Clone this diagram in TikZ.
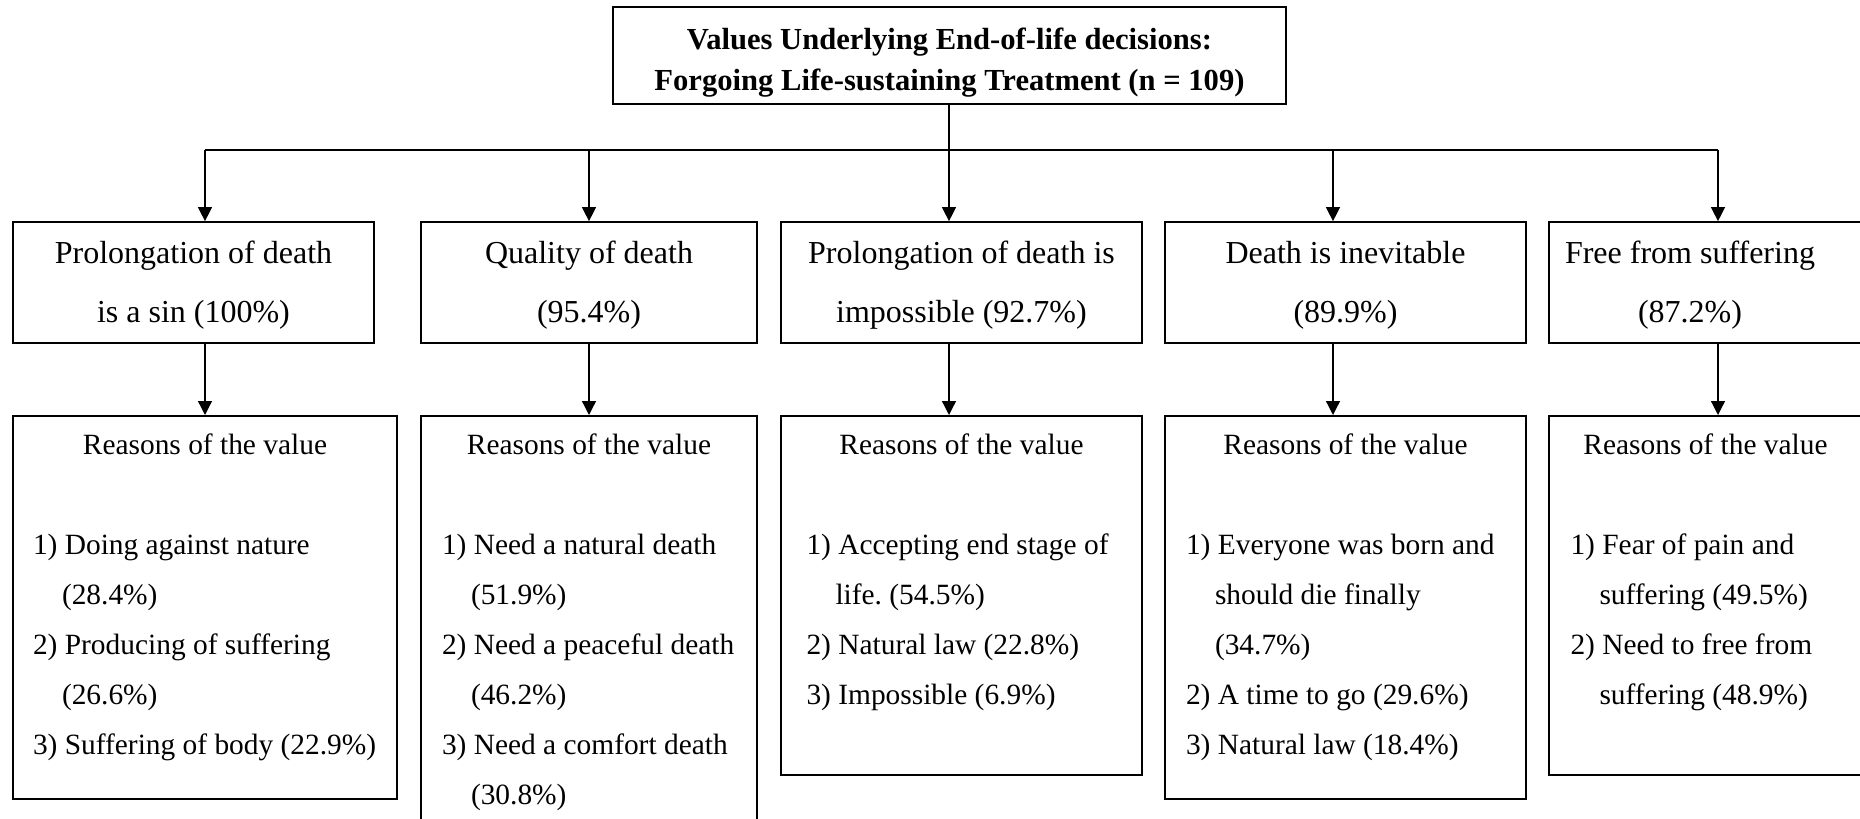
\documentclass[tikz,border=0pt]{standalone}
\usepackage{fontspec}
\setmainfont{Liberation Serif}
\usetikzlibrary{arrows.meta, positioning}
\frenchspacing

% reasons box contents: height, text width, items
\newcommand{\reasonlist}[3]{%
  \parbox[c][#1][t]{#2}{\vspace*{9pt}\centering Reasons of the value\par
    \vspace{\baselineskip}\raggedright #3}}
\newcommand{\ritem}[2]{\par\hangindent=14.5pt\hangafter=1 #1~#2}

\begin{document}
\begin{tikzpicture}[
    x=0.5pt, y=-0.5pt,
    titlebox/.style={draw, line width=0.85pt, align=center, inner sep=0pt,
                minimum width=336.5pt, minimum height=48.5pt,
                font=\fontsize{15.3}{20.5}\selectfont\bfseries},
    valbox/.style={draw, line width=0.85pt, align=center, inner sep=0pt,
                minimum height=60.5pt, font=\fontsize{16}{29.5}\selectfont},
    reasonbox/.style={draw, line width=0.85pt, inner sep=0pt, anchor=north,
                font=\fontsize{14.7}{25}\selectfont},
    link/.style={line width=0.65pt},
    arr/.style={link, -{Triangle[length=7pt, width=7pt]}}
    ]
    \useasboundingbox (0,0) rectangle (1860,819);

    \node[titlebox] (title) at (949.5,55.5)
      {\rule{0pt}{17.5pt}Values Underlying End-of-life decisions:\\Forgoing Life-sustaining Treatment (n = 109)};

    % values
    \node[valbox, minimum width=180.5pt] (v1) at (193.5,282.5) {\rule{0pt}{14pt}Prolongation of death\\is a sin (100\%)};
    \node[valbox, minimum width=168pt]   (v2) at (589,282.5)   {\rule{0pt}{14pt}Quality of death\\(95.4\%)};
    \node[valbox, minimum width=180.5pt] (v3) at (961.5,282.5) {\rule{0pt}{14pt}Prolongation of death is\\impossible (92.7\%)};
    \node[valbox, minimum width=180.5pt] (v4) at (1345.5,282.5) {\rule{0pt}{14pt}Death is inevitable\\(89.9\%)};
    \node[valbox, minimum width=156.5pt] (v5) at (1705.5,282.5)
      {\rule{0pt}{14pt}Free from suffering\hspace*{15.5pt}\\(87.2\%)\hspace*{15.5pt}};

    % reasons
    \node[reasonbox, minimum width=192pt] (r1) at (205,415) {\reasonlist{191.5pt}{172pt}{%
      \ritem{1)}{Doing against nature\newline(28.4\%)}
      \ritem{2)}{Producing of suffering\newline(26.6\%)}
      \ritem{3)}{Suffering~of~body~(22.9\%)}}};
    \node[reasonbox, minimum width=168pt] (r2) at (589,415) {\reasonlist{210pt}{147pt}{%
      \ritem{1)}{Need a natural death\newline(51.9\%)}
      \ritem{2)}{Need~a~peaceful~death\newline(46.2\%)}
      \ritem{3)}{Need a comfort death\newline(30.8\%)}}};
    \node[reasonbox, minimum width=180.5pt] (r3) at (961.5,415) {\reasonlist{179.5pt}{155pt}{%
      \ritem{1)}{Accepting end stage of\newline life. (54.5\%)}
      \ritem{2)}{Natural law (22.8\%)}
      \ritem{3)}{Impossible (6.9\%)}}};
    \node[reasonbox, minimum width=180.5pt] (r4) at (1345.5,415) {\reasonlist{191.5pt}{159.5pt}{%
      \ritem{1)}{Everyone was born and\newline should die finally\newline(34.7\%)}
      \ritem{2)}{A time to go (29.6\%)}
      \ritem{3)}{Natural law (18.4\%)}}};
    \node[reasonbox, minimum width=156.5pt] (r5) at (1705.5,415) {\reasonlist{179.5pt}{135pt}{%
      \ritem{1)}{Fear of pain and\newline suffering (49.5\%)}
      \ritem{2)}{Need to free from\newline suffering (48.9\%)}}};

    % connectors
    \foreach \i/\x in {1/205, 2/589, 3/949, 4/1333, 5/1718}
      \coordinate (c\i) at (\x,150);
    \draw[link] (c3 |- title.south) -- (c3);
    \draw[link] (c1) -- (c5);
    \foreach \i in {1,...,5} {
      \draw[arr] (c\i) -- (c\i |- v\i.north);
      \draw[arr] (c\i |- v\i.south) -- (c\i |- r\i.north);
    }
\end{tikzpicture}
\end{document}
